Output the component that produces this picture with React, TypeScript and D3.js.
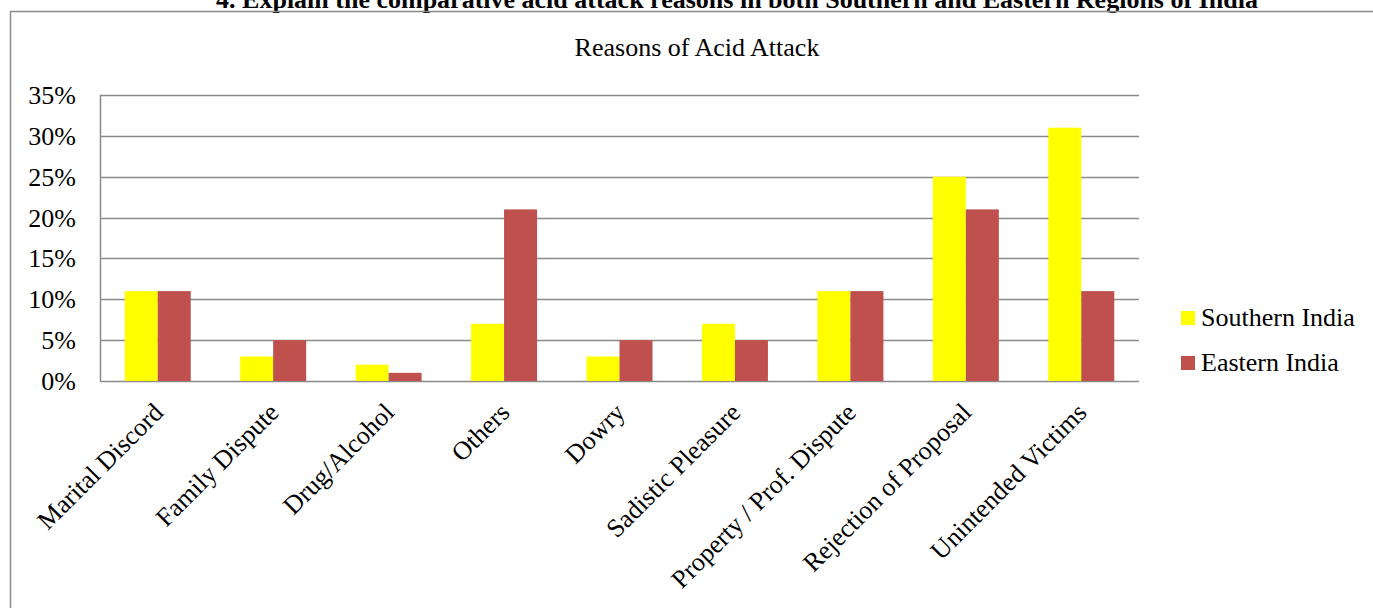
import React, { useEffect, useRef } from "react";
import * as d3 from "d3";

const categories = [
  "Marital Discord",
  "Family Dispute",
  "Drug/Alcohol",
  "Others",
  "Dowry",
  "Sadistic Pleasure",
  "Property / Prof. Dispute",
  "Rejection of Proposal",
  "Unintended Victims",
];
const southern = [11, 3, 2, 7, 3, 7, 11, 25, 31];
const eastern = [11, 5, 1, 21, 5, 5, 11, 21, 11];
const seriesNames = ["Southern India", "Eastern India"];
const seriesColors = ["#FFFF00", "#C0504D"];
const yTicks = [0, 5, 10, 15, 20, 25, 30, 35];

const W = 1373;
const H = 608;

export default function App() {
  const ref = useRef<SVGSVGElement>(null);

  useEffect(() => {
    const svg = d3.select(ref.current);
    svg.selectAll("*").remove();
    const font = "'Liberation Serif', 'Times New Roman', serif";
    const fs = 26;

    const left = 100, right = 1139, top = 95, bottom = 381;
    const x = d3.scaleBand<string>().domain(categories).range([left, right]);
    const y = d3.scaleLinear().domain([0, 35]).range([bottom, top]);
    const barW = 33;

    // header text (cut off at top like the reference)
    svg.append("text")
      .attr("x", 737).attr("y", 8)
      .attr("text-anchor", "middle")
      .attr("font-family", font).attr("font-weight", "bold").attr("font-size", fs)
      .text("4. Explain the comparative acid attack reasons in both Southern and Eastern Regions of India");

    // outer box
    svg.append("path")
      .attr("d", `M10.5,${H} V11.5 H${W}`)
      .attr("fill", "none").attr("stroke", "#8a8a8a").attr("stroke-width", 1.5);

    // chart title
    svg.append("text")
      .attr("x", 697).attr("y", 56)
      .attr("text-anchor", "middle")
      .attr("font-family", font).attr("font-size", fs)
      .text("Reasons of Acid Attack");

    // gridlines
    svg.append("g").selectAll("line").data(yTicks).join("line")
      .attr("x1", left).attr("x2", right)
      .attr("y1", (d) => Math.round(y(d)) + 0.5).attr("y2", (d) => Math.round(y(d)) + 0.5)
      .attr("stroke", "#8a8a8a").attr("stroke-width", 1.5);

    // y axis line
    svg.append("line")
      .attr("x1", left + 0.5).attr("x2", left + 0.5)
      .attr("y1", top).attr("y2", bottom + 1)
      .attr("stroke", "#8a8a8a").attr("stroke-width", 1.5);

    // y tick labels
    svg.append("g").selectAll("text").data(yTicks).join("text")
      .attr("x", 76).attr("y", (d) => y(d) + 9)
      .attr("text-anchor", "end")
      .attr("font-family", font).attr("font-size", fs)
      .text((d) => `${d}%`);

    // bars
    const series = [southern, eastern];
    series.forEach((vals, si) => {
      svg.append("g").selectAll("rect").data(vals).join("rect")
        .attr("x", (_d, i) => (x(categories[i]) as number) + x.bandwidth() / 2 - barW + si * barW)
        .attr("y", (d) => y(d))
        .attr("width", barW)
        .attr("height", (d) => y(0) - y(d))
        .attr("fill", seriesColors[si]);
    });

    // x labels
    svg.append("g").selectAll("text").data(categories).join("text")
      .attr("transform", (d) => {
        const cx = (x(d) as number) + x.bandwidth() / 2 + 7;
        return `translate(${cx},${414}) rotate(-45)`;
      })
      .attr("text-anchor", "end")
      .attr("font-family", font).attr("font-size", fs)
      .text((d) => d);

    // legend
    const lg = svg.append("g");
    seriesNames.forEach((name, i) => {
      const ly = 311 + i * 45;
      lg.append("rect").attr("x", 1181).attr("y", ly).attr("width", 14).attr("height", 14).attr("fill", seriesColors[i]);
      lg.append("text").attr("x", 1201).attr("y", ly + 15)
        .attr("font-family", font).attr("font-size", fs).text(name);
    });
  }, []);

  return (
    <svg ref={ref} width={W} height={H}
      style={{ position: "absolute", left: 0, top: 0, background: "#fff" }} />
  );
}
